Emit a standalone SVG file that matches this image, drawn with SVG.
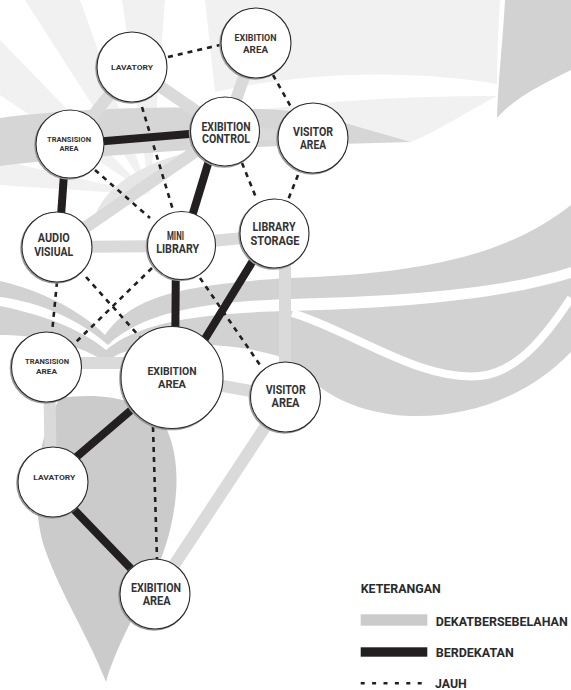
<svg xmlns="http://www.w3.org/2000/svg" width="571" height="690" viewBox="0 0 571 690">
<style>
.bg1{fill:#f1f1f1}
.bg2{fill:#d2d2d2}
.near{stroke:#dadada;stroke-width:12;fill:none}
.close{stroke:#231f20;stroke-width:8;fill:none}
.far{stroke:#231f20;stroke-width:2.6;stroke-dasharray:5 5;fill:none}
.node{fill:#fff;stroke:#2a2a2a;stroke-width:1.1}
.shadow{fill:none;stroke:#9a9a9a;stroke-width:1.6}
text{font-family:Roboto,"Liberation Sans",sans-serif;font-weight:700;fill:#333;text-anchor:middle}
.l{font-size:12px}
.lb{font-size:11px}
.m{font-size:9.5px}
.s{font-size:8px}
.leg{font-size:12.5px;text-anchor:start;fill:#2a2a2a}
</style>
<rect width="571" height="690" fill="#fff"/>
<g id="watermark">
  <path class="bg1" d="M150,195 L0,40 L0,95 Z"/>
  <path class="bg1" d="M150,195 L25,0 L80,0 Z"/>
  <path class="bg1" d="M150,195 L122,0 L165,0 Z"/>
  <path class="bg1" d="M150,195 L0,160 L0,185 Z"/>
  <path class="bg1" d="M205,0 L500,0 C498,30 497,60 497,84 C430,72 320,68 215,92 Z"/>
  <path class="bg1" d="M215,118 C300,100 420,96 497,96 C470,110 440,130 411,142 C350,128 280,120 215,118 Z"/>
  <path class="bg2" d="M505,0 L571,0 L571,70 C540,85 512,100 497,118 C498,80 503,40 505,0 Z"/>
  <path fill="#d6d6d6" d="M0,118 C60,110 160,104 280,110 C320,114 347,124 411,142 C330,144 200,148 120,155 C80,158 30,162 0,166 Z"/>
  <path fill="#e6e6e6" d="M95,215 C110,180 150,160 205,148 C160,168 125,190 103,218 Z"/>
  <path class="bg2" d="M0,281 C40,290 80,310 105,335 C130,300 170,285 290,278 C400,274 500,262 571,205 L571,267 C500,290 400,296 290,299 C180,302 135,320 108,345 C80,320 40,302 0,297 Z"/>
  <path class="bg2" d="M0,306 C40,314 80,328 106,350 C140,322 200,313 290,311 C400,308 500,300 571,278 L571,352 C530,395 470,418 410,416 C360,414 320,395 290,360 C250,345 200,343 160,345 C130,347 115,355 106,362 C80,345 40,335 0,335 Z"/>
  <path d="M292,313 C350,330 420,382 480,376 C520,372 550,330 571,298" fill="none" stroke="#fff" stroke-width="8"/>
  <path fill="#cbcbcb" d="M60,398 C100,392 150,398 167,430 C185,470 176,530 152,580 C132,620 115,650 106,682 C90,640 60,592 46,552 C30,510 35,440 60,398 Z"/>
</g>
<g id="connectors">
  <g id="near-links">
    <line class="near" x1="132" y1="67" x2="70" y2="144"/>
    <line class="near" x1="132" y1="67" x2="225" y2="131"/>
    <line class="near" x1="256" y1="43" x2="225" y2="131"/>
    <line class="near" x1="225" y1="133" x2="313" y2="136"/>
    <line class="near" x1="57" y1="247" x2="225" y2="131"/>
    <line class="near" x1="57" y1="247" x2="181" y2="246"/>
    <line class="near" x1="181" y1="244" x2="274" y2="235"/>
    <line class="near" x1="285" y1="240" x2="285" y2="397"/>
    <line class="near" x1="46" y1="363" x2="172" y2="363"/>
    <line class="near" x1="172" y1="377" x2="285" y2="397"/>
    <line class="near" x1="49" y1="367" x2="51" y2="480"/>
    <line class="near" x1="285" y1="397" x2="155" y2="594"/>
  </g>
  <g id="close-links">
    <line class="close" x1="70" y1="144" x2="225" y2="131"/>
    <line class="close" x1="65" y1="160" x2="60" y2="230"/>
    <line class="close" x1="218" y1="131" x2="183" y2="246"/>
    <line class="close" x1="176" y1="246" x2="175" y2="377"/>
    <line class="close" x1="270" y1="233" x2="195" y2="355"/>
    <line class="close" x1="150" y1="394" x2="53" y2="477"/>
    <line class="close" x1="60" y1="495" x2="140" y2="578"/>
  </g>
  <g id="far-links">
    <line class="far" x1="168" y1="57" x2="220" y2="45"/>
    <line class="far" x1="273" y1="75" x2="291" y2="107"/>
    <line class="far" x1="142" y1="107" x2="173" y2="210"/>
    <line class="far" x1="95" y1="170" x2="150" y2="218"/>
    <line class="far" x1="242" y1="163" x2="257" y2="200"/>
    <line class="far" x1="298" y1="175" x2="288" y2="200"/>
    <line class="far" x1="57" y1="282" x2="52" y2="333"/>
    <line class="far" x1="86" y1="277" x2="140" y2="337"/>
    <line class="far" x1="152" y1="268" x2="75" y2="343"/>
    <line class="far" x1="200" y1="278" x2="260" y2="365"/>
    <line class="far" x1="153" y1="427" x2="157" y2="559"/>
  </g>
</g>
<g id="n-lavatory-top"><circle class="shadow" cx="131" cy="68" r="35"/><circle class="node" cx="132" cy="67" r="35"/><text class="s" x="132" y="70" textLength="42" lengthAdjust="spacingAndGlyphs">LAVATORY</text></g>
<g id="n-exibition-top"><circle class="shadow" cx="255" cy="44" r="35"/><circle class="node" cx="256" cy="43" r="35"/><text class="m" x="255.5" y="41" textLength="42" lengthAdjust="spacingAndGlyphs">EXIBITION</text><text class="m" x="255.5" y="53.3" textLength="25" lengthAdjust="spacingAndGlyphs">AREA</text></g>
<g id="n-transision-top"><circle class="shadow" cx="69" cy="145" r="34"/><circle class="node" cx="70" cy="144" r="34"/><text class="s" x="69" y="141.7" textLength="44" lengthAdjust="spacingAndGlyphs">TRANSISION</text><text class="s" x="69" y="151" textLength="19" lengthAdjust="spacingAndGlyphs">AREA</text></g>
<g id="n-exibition-control"><circle class="shadow" cx="224" cy="132.5" r="34.5"/><circle class="node" cx="225" cy="131.5" r="34.5"/><text class="l" x="226" y="130.7" textLength="49" lengthAdjust="spacingAndGlyphs">EXIBITION</text><text class="l" x="226" y="143.3" textLength="48" lengthAdjust="spacingAndGlyphs">CONTROL</text></g>
<g id="n-visitor-top"><circle class="shadow" cx="312" cy="139" r="35"/><circle class="node" cx="313" cy="138" r="35"/><text class="l" x="313" y="136" textLength="40" lengthAdjust="spacingAndGlyphs">VISITOR</text><text class="l" x="313" y="149.3" textLength="26" lengthAdjust="spacingAndGlyphs">AREA</text></g>
<g id="n-audio-visual"><circle class="shadow" cx="56" cy="248" r="35"/><circle class="node" cx="57" cy="247" r="35"/><text class="l" x="53.8" y="242.3" textLength="32" lengthAdjust="spacingAndGlyphs">AUDIO</text><text class="l" x="53.7" y="256" textLength="39" lengthAdjust="spacingAndGlyphs">VISIUAL</text></g>
<g id="n-mini-library"><circle class="shadow" cx="180.5" cy="246.5" r="34"/><circle class="node" cx="181.5" cy="245.5" r="34"/><text class="l" x="175.5" y="240" textLength="17" lengthAdjust="spacingAndGlyphs">MINI</text><text class="l" x="177.7" y="253.3" textLength="43" lengthAdjust="spacingAndGlyphs">LIBRARY</text></g>
<g id="n-library-storage"><circle class="shadow" cx="273.5" cy="234.5" r="34.5"/><circle class="node" cx="274.5" cy="233.5" r="34.5"/><text class="l" x="274" y="230.7" textLength="43" lengthAdjust="spacingAndGlyphs">LIBRARY</text><text class="l" x="275" y="245" textLength="49" lengthAdjust="spacingAndGlyphs">STORAGE</text></g>
<g id="n-transision-small"><circle class="shadow" cx="45.5" cy="368" r="35"/><circle class="node" cx="46.5" cy="367" r="35"/><text class="s" x="47" y="364.3" textLength="44" lengthAdjust="spacingAndGlyphs">TRANSISION</text><text class="s" x="46.5" y="374.3" textLength="21" lengthAdjust="spacingAndGlyphs">AREA</text></g>
<g id="n-exibition-big"><circle class="shadow" cx="171" cy="378.5" r="51"/><circle class="node" cx="172" cy="377.5" r="51"/><text class="lb" x="172" y="374.5" textLength="49" lengthAdjust="spacingAndGlyphs">EXIBITION</text><text class="lb" x="172" y="387.5" textLength="28" lengthAdjust="spacingAndGlyphs">AREA</text></g>
<g id="n-visitor-mid"><circle class="shadow" cx="284.5" cy="398" r="35"/><circle class="node" cx="285.5" cy="397" r="35"/><text class="l" x="285.7" y="394" textLength="40" lengthAdjust="spacingAndGlyphs">VISITOR</text><text class="l" x="285.5" y="407.3" textLength="28" lengthAdjust="spacingAndGlyphs">AREA</text></g>
<g id="n-lavatory-bottom"><circle class="shadow" cx="52" cy="483" r="35"/><circle class="node" cx="53" cy="482" r="35"/><text class="s" x="54.3" y="480" textLength="42" lengthAdjust="spacingAndGlyphs">LAVATORY</text></g>
<g id="n-exibition-bottom"><circle class="shadow" cx="154" cy="595" r="35"/><circle class="node" cx="155" cy="594" r="35"/><text class="l" x="156" y="591.7" textLength="50" lengthAdjust="spacingAndGlyphs">EXIBITION</text><text class="l" x="156.7" y="605" textLength="28" lengthAdjust="spacingAndGlyphs">AREA</text></g>
<g id="legend">
  <text class="leg" x="360.7" y="593.3" textLength="80" lengthAdjust="spacingAndGlyphs">KETERANGAN</text>
  <rect x="360.7" y="614.3" width="66.6" height="11.4" fill="#cbcbcb"/>
  <text class="leg" x="435.7" y="625.7" textLength="132" lengthAdjust="spacingAndGlyphs">DEKATBERSEBELAHAN</text>
  <rect x="360.7" y="647.3" width="66.6" height="9.4" fill="#231f20"/>
  <text class="leg" x="435.7" y="656.7" textLength="78" lengthAdjust="spacingAndGlyphs">BERDEKATAN</text>
  <line x1="360.7" y1="683.3" x2="421.7" y2="683.3" stroke="#231f20" stroke-width="2.5" stroke-dasharray="4 7.4"/>
  <text class="leg" x="435" y="687.7" textLength="31.7" lengthAdjust="spacingAndGlyphs">JAUH</text>
</g>
</svg>
